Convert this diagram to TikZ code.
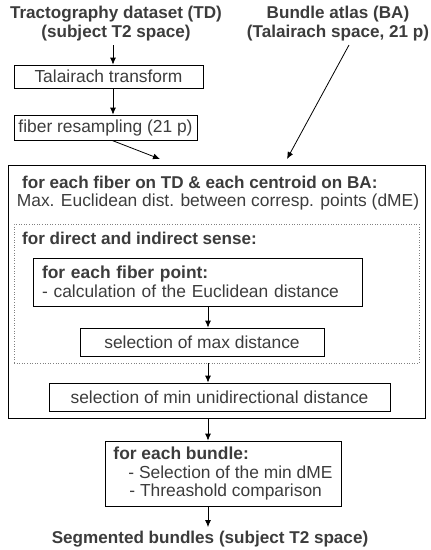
\documentclass[tikz,border=0pt]{standalone}
\usepackage{fontspec}
\setmainfont{Liberation Sans}
\usetikzlibrary{arrows.meta}
\definecolor{txtgray}{RGB}{60,60,60}
\begin{document}
\begin{tikzpicture}[x=1pt, y=-1pt,
  every node/.style={text=txtgray, font=\fontsize{17.4}{18.5}\selectfont},
  box/.style={draw=black, line width=0.8pt, inner sep=0pt},
  bold/.style={font=\fontsize{17.1}{19}\selectfont\bfseries},
  arr/.style={-{Latex[length=7pt,width=6pt]}, line width=0.8pt}]

  \useasboundingbox (0,0) rectangle (431,550);

  % inputs
  \node [bold, align=center] (td) at (116,24) {Tractography dataset (TD)\\(subject T2 space)};
  \node [bold, align=center] (ba) at (338,24) {Bundle atlas (BA)\\(Talairach space, 21 p)};

  % preprocessing of the fibers
  \node [box, minimum width=189pt, minimum height=23pt] (tal) at (108.5,76.5) {Talairach transform};
  \node [box, minimum width=183pt, minimum height=25pt] (res) at (105.5,127.5) {fiber resampling (21 p)};

  % main loop
  \node [box, minimum width=417pt, minimum height=253pt] (loop) at (216.5,291.5) {};
  \node [bold, anchor=base west, inner sep=0pt] (loophd) at (22,188) {for each fiber on TD \& each centroid on BA:};
  \node [anchor=base, inner sep=0pt] (dme) at (218,206) {Max. Euclidean dist. between corresp. points (dME)};

  \node [draw=gray, dotted, line width=0.6pt, inner sep=0pt, minimum width=405pt, minimum height=139pt] (sense) at (216.5,293.5) {};
  \node [bold, anchor=base west, inner sep=0pt] (sensehd) at (22,244) {for direct and indirect sense:};

  \node [box, inner xsep=9pt, minimum height=48pt, text width=311pt, align=left] (pts) at (197.5,282)
    {\textbf{for each fiber point:}\\- calculation of the Euclidean distance};
  \node [box, minimum width=244pt, minimum height=28pt] (maxd) at (202,342) {selection of max distance};
  \node [box, minimum width=341pt, minimum height=28pt] (mind) at (219.5,397) {selection of min unidirectional distance};

  % per bundle
  \node [box, minimum width=236pt, minimum height=65pt, align=left] (bundle) at (223,473.5)
    {\textbf{for each bundle:}\\\hspace*{15pt}- Selection of the min dME\\\hspace*{16pt}- Threashold comparison};
  \node [bold, anchor=base] (seg) at (210,543) {Segmented bundles (subject T2 space)};

  % connectors
  \coordinate (col) at (113,0);
  \coordinate (axis) at (208,0);
  \coordinate (resin) at (160,159);
  \coordinate (bain) at (287,159);

  \draw [arr] (td.south -| col) -- (tal.north -| col);
  \draw [arr] (tal.south -| col) -- (res.north -| col);
  \draw [arr] ([xshift=6.5pt]res.south) -- (resin);
  \draw [arr] ([xshift=11pt]ba.south) -- (bain);
  \draw [arr] (pts.south -| axis) -- (maxd.north -| axis);
  \draw [arr] (sense.south -| axis) -- (mind.north -| axis);
  \draw [arr] (loop.south -| axis) -- (bundle.north -| axis);
  \draw [arr] (bundle.south -| axis) -- (seg.north -| axis);

\end{tikzpicture}
\end{document}
